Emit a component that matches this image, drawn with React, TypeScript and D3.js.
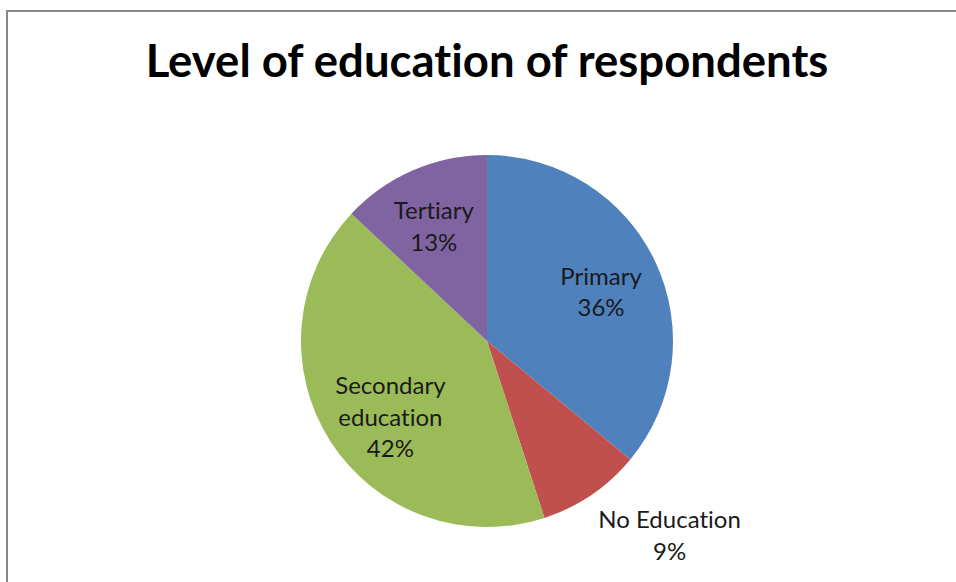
import React, { useEffect, useRef } from "react";
import * as d3 from "d3";

const title = "Level of education of respondents";
const categories = ["Primary", "No Education", "Secondary education", "Tertiary"];
const values = [36, 9, 42, 13];
const labelLines = [["Primary"], ["No Education"], ["Secondary", "education"], ["Tertiary"]];
const colors = ["#4F81BD", "#C0504D", "#9BBB59", "#8064A2"];

// label placement: radius factor and pixel nudges (layout only)
const labelRadius = [0.66, 1.0, 0.66, 0.68];
const labelNudge: [number, number][] = [
  [3, 4],
  [78, 41],
  [7, 11],
  [-3, 2],
];

const W = 956;
const H = 582;

export default function App() {
  const ref = useRef<SVGSVGElement>(null);

  useEffect(() => {
    const svg = d3.select(ref.current);
    svg.selectAll("*").remove();

    svg
      .append("rect")
      .attr("x", 7)
      .attr("y", 11)
      .attr("width", W + 20)
      .attr("height", H + 20)
      .attr("fill", "#fff")
      .attr("stroke", "#878787")
      .attr("stroke-width", 2);

    const cx = 487;
    const cy = 341;
    const R = 186;

    svg
      .append("text")
      .attr("x", cx)
      .attr("y", 77)
      .attr("text-anchor", "middle")
      .attr("font-family", "Lato, 'Open Sans', sans-serif")
      .attr("font-weight", "bold")
      .attr("font-size", 45.5)
      .style("font-variant-ligatures", "none")
      .style("font-feature-settings", "'liga' 0, 'dlig' 0")
      .attr("fill", "#000")
      .text(title);

    const pie = d3
      .pie<number>()
      .sort(null)
      .value((d) => d);
    const arcs = pie(values);
    const arc = d3.arc<d3.PieArcDatum<number>>().innerRadius(0).outerRadius(R);

    const g = svg.append("g").attr("transform", `translate(${cx},${cy})`);

    g.selectAll("path")
      .data(arcs)
      .join("path")
      .attr("d", arc)
      .attr("fill", (_, i) => colors[i]);

    const lineH = 31.5;
    arcs.forEach((a, i) => {
      const mid = (a.startAngle + a.endAngle) / 2;
      const r = R * labelRadius[i];
      const x = Math.sin(mid) * r + labelNudge[i][0];
      const y = -Math.cos(mid) * r + labelNudge[i][1];
      const lines = [...labelLines[i], `${values[i]}%`];
      const n = lines.length;
      const t = g
        .append("text")
        .attr("text-anchor", "middle")
        .attr("font-family", "Lato, 'Open Sans', sans-serif")
        .attr("font-size", 24)
        .style("font-variant-ligatures", "none")
        .style("font-feature-settings", "'liga' 0, 'dlig' 0")
        .attr("fill", "#1a1a1a")
        .attr("aria-label", categories[i]);
      lines.forEach((ln, j) => {
        t.append("tspan")
          .attr("x", x)
          .attr("y", y + (j - (n - 1) / 2) * lineH + 8)
          .text(ln);
      });
    });
  }, []);

  return (
    <svg
      ref={ref}
      width={W}
      height={H}
      style={{ position: "absolute", left: 0, top: 0, background: "#fff" }}
    />
  );
}
